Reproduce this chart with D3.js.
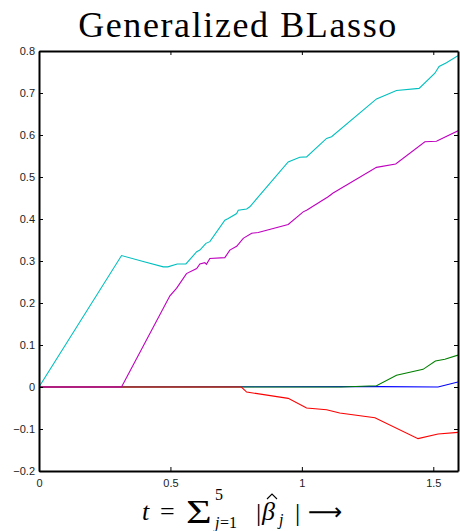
<!DOCTYPE html>
<html lang="en">
<head>
<meta charset="UTF-8">
<title>Generalized BLasso</title>
<script src="https://d3js.org/d3.v7.min.js"></script>
<style>
  body { margin: 0; background: #fff; }
  .tick text { font-family: "Liberation Sans", Arial, sans-serif; font-size: 11px; fill: #222; }
  .math { font-family: "Liberation Serif", "DejaVu Serif", serif; }
</style>
</head>
<body>
<svg id="chart" width="460" height="531"></svg>
<script>
// coefficient paths (t, value)
var tBlue    = [0, 1.30, 1.518, 1.594];
var vBlue    = [0, 0.001, 0, 0.012];
var tGreen   = [0, 1.15, 1.284, 1.36, 1.461, 1.508, 1.544, 1.594];
var vGreen   = [0, 0, 0.003, 0.028, 0.042, 0.062, 0.066, 0.076];
var tRed     = [0, 0.77, 0.79, 0.948, 1.018, 1.094, 1.144, 1.278, 1.442, 1.518, 1.594];
var vRed     = [0, 0, -0.012, -0.027, -0.05, -0.054, -0.062, -0.073, -0.123, -0.112, -0.108];
var tCyan    = [0, 0.314, 0.40, 0.473, 0.49, 0.526, 0.559, 0.60, 0.612, 0.635, 0.65, 0.707, 0.72, 0.752, 0.758, 0.79, 0.802, 0.948, 0.992, 1.018, 1.094, 1.113, 1.284, 1.36, 1.446, 1.506, 1.522, 1.55, 1.594];
var vCyan    = [0, 0.313, 0.298, 0.286, 0.286, 0.293, 0.293, 0.322, 0.326, 0.342, 0.346, 0.397, 0.401, 0.413, 0.421, 0.424, 0.429, 0.536, 0.547, 0.548, 0.592, 0.596, 0.686, 0.706, 0.711, 0.747, 0.763, 0.772, 0.789];
var tMagenta = [0, 0.314, 0.498, 0.523, 0.561, 0.60, 0.612, 0.631, 0.637, 0.65, 0.707, 0.726, 0.752, 0.777, 0.809, 0.834, 0.948, 1.005, 1.018, 1.10, 1.119, 1.284, 1.357, 1.468, 1.512, 1.594];
var vMagenta = [0, 0, 0.217, 0.235, 0.27, 0.282, 0.293, 0.296, 0.292, 0.306, 0.308, 0.326, 0.335, 0.354, 0.366, 0.368, 0.387, 0.417, 0.421, 0.453, 0.462, 0.523, 0.531, 0.584, 0.585, 0.61];

var xTicks = [0, 0.5, 1, 1.5];
var yTicks = [-0.2, -0.1, 0, 0.1, 0.2, 0.3, 0.4, 0.5, 0.6, 0.7, 0.8];

var series = [
  { t: tBlue, v: vBlue, color: "#0000ff" },
  { t: tGreen, v: vGreen, color: "#008000" },
  { t: tRed, v: vRed, color: "#ff0000" },
  { t: tCyan, v: vCyan, color: "#00bfbf" },
  { t: tMagenta, v: vMagenta, color: "#bf00bf" }
];

var margin = { top: 51, right: 2, bottom: 60, left: 39 };
var width = 460 - margin.left - margin.right;
var height = 531 - margin.top - margin.bottom;

var svg = d3.select("#chart");
var g = svg.append("g")
  .attr("transform", "translate(" + margin.left + "," + margin.top + ")");

var x = d3.scaleLinear().domain([0, 1.594]).range([0, width]);
var y = d3.scaleLinear().domain([-0.2, 0.8]).range([height, 0]);

g.append("clipPath").attr("id", "clip")
  .append("rect").attr("width", width).attr("height", height);

var line = d3.line()
  .x(function(d) { return x(d[0]); })
  .y(function(d) { return y(d[1]); });

g.append("g").attr("clip-path", "url(#clip)")
  .selectAll("path")
  .data(series)
  .enter().append("path")
  .attr("d", function(s) { return line(d3.zip(s.t, s.v)); })
  .attr("fill", "none")
  .attr("stroke", function(s) { return s.color; })
  .attr("stroke-width", 1.1);

// axes, ticks pointing inwards like matlab
var fmt = function(d) { return d === 0 ? "0" : d3.format("")(d); };

var xAxis = g.append("g")
  .attr("transform", "translate(0," + height + ")")
  .call(d3.axisBottom(x).tickValues(xTicks).tickSizeInner(-4).tickSizeOuter(0).tickPadding(8).tickFormat(fmt));
var yAxis = g.append("g")
  .call(d3.axisLeft(y).tickValues(yTicks).tickSizeInner(-4).tickSizeOuter(0).tickPadding(4).tickFormat(fmt));
var xTop = g.append("g")
  .call(d3.axisTop(x).tickValues(xTicks).tickSizeInner(-4).tickSizeOuter(0).tickFormat(""));
var yRight = g.append("g")
  .attr("transform", "translate(" + width + ",0)")
  .call(d3.axisRight(y).tickValues(yTicks).tickSizeInner(-4).tickSizeOuter(0).tickFormat(""));

[xAxis, yAxis, xTop, yRight].forEach(function(a) {
  a.select(".domain").attr("stroke", "#000").attr("stroke-width", 2);
  a.selectAll(".tick line").attr("stroke", "#000").attr("stroke-width", 1);
});

// title
svg.append("text")
  .attr("class", "math")
  .attr("x", 238)
  .attr("y", 37)
  .attr("text-anchor", "middle")
  .style("font-size", "36px")
  .style("letter-spacing", "1.6px")
  .text("Generalized BLasso");

// x label: t = sum_{j=1}^5 |beta-hat_j| ->  (laid out piece by piece)
var xlab = svg.append("g").attr("class", "math");
function piece(txt, px, py, size, italic) {
  return xlab.append("text")
    .attr("x", px).attr("y", py)
    .style("font-size", size + "px")
    .style("font-style", italic ? "italic" : "normal")
    .text(txt);
}
piece("t", 142, 520, 26, true);
piece("=", 160, 520, 26, false);
xlab.append("text")
  .attr("transform", "translate(186,523) scale(1.3,1)")
  .style("font-size", "34px")
  .text("\u03A3");
piece("5", 215, 500, 16, false);
piece("j", 215, 528, 16, true);
piece("=1", 220, 528, 16, false);
piece("|", 256, 521, 26, false);
piece("\u03B2", 262, 520, 26, true);
// hat accent over beta
xlab.append("path")
  .attr("d", "M267,499 L272,494 L277,499")
  .attr("fill", "none")
  .attr("stroke", "#000")
  .attr("stroke-width", 1.1);
piece("j", 279, 525, 16, true);
piece("|", 295, 521, 26, false);
xlab.append("text")
  .attr("x", 308).attr("y", 520)
  .style("font-family", "'DejaVu Sans', sans-serif")
  .style("font-size", "24px")
  .text("\u27F6");
</script>
</body>
</html>
